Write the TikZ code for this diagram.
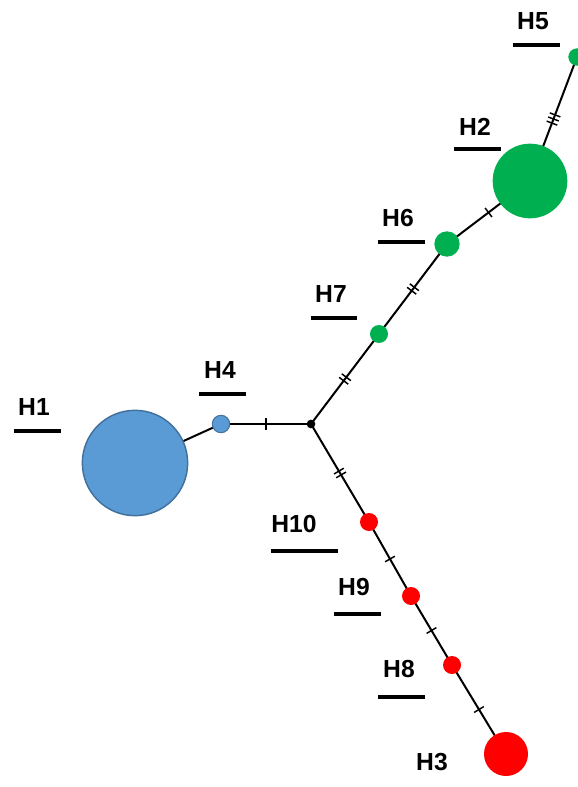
\documentclass[tikz,border=0pt]{standalone}
\usepackage{fontspec}
\setmainfont{Liberation Sans}
\usepackage{tikz}
\usetikzlibrary{positioning}
\usetikzlibrary{backgrounds}
\definecolor{hblue}{HTML}{5B9BD5}
\definecolor{hblueedge}{HTML}{41719C}
\definecolor{hgreen}{HTML}{00B050}
\definecolor{hred}{HTML}{FF0000}
\newcommand{\mk}{\rule{1.1pt}{8.5pt}}

\begin{document}
\begin{tikzpicture}[x=0.75pt,y=-0.75pt,main/.style = {circle, inner sep=0pt},
    lab/.style = {font=\fontsize{18.5}{20}\selectfont\bfseries},
    uline/.style = {line width=2.5pt},
    mut/.style = {sloped, inner sep=0pt}]
        \useasboundingbox (0,0) rectangle (577,787);
        % haplotypes
        \node[main,fill=hblue,draw=hblueedge,line width=1.1pt,minimum size=79pt] (1) at (135,463) {};
        \node[main,fill=hgreen,minimum size=56pt] (2) at (530,181) {};
        \node[main,fill=hred,minimum size=33pt] (3) at (506,754) {};
        \node[main,fill=hblue,draw=hblueedge,line width=0.8pt,minimum size=13pt] (4) at (221,424) {};
        \node[main,fill=hgreen,minimum size=13pt] (5) at (577,57) {};
        \node[main,fill=hgreen,minimum size=19pt] (6) at (447,244) {};
        \node[main,fill=hgreen,minimum size=13.5pt] (7) at (379,334) {};
        \node[main,fill=hred,minimum size=13.5pt] (8) at (452,665) {};
        \node[main,fill=hred,minimum size=13.5pt] (9) at (411,596) {};
        \node[main,fill=hred,minimum size=13.5pt] (10) at (369,522) {};
        \node[main,fill=black,minimum size=6.5pt] (0) at (311,424) {};
        % links and mutations
        \begin{scope}[on background layer]
        \path[line width=1.5pt]
        (1.center) edge (4.center)
        (4.center) edge node[mut] {\mk} (0.center)
        (0.center) edge node[mut] {\mk\hspace{2.2pt}\mk} (7.center)
        (7.center) edge node[mut] {\mk\hspace{2.2pt}\mk} (6.center)
        (6.center) edge node[mut] {\mk} (2.center)
        (2.center) edge node[mut] {\mk\hspace{2.2pt}\mk\hspace{2.2pt}\mk} (5.center)
        (0.center) edge node[mut] {\mk\hspace{2.2pt}\mk} (10.center)
        (10.center) edge node[mut] {\mk} (9.center)
        (9.center) edge node[mut] {\mk} (8.center)
        (8.center) edge node[mut] {\mk} (3.center);
        \end{scope}
        % labels
        \node[lab] (l1) at (34,407) {H1};
        \draw[uline] (l1.center) ++(-20,24) -- ++(47,0);
        \node[lab] (l2) at (475,127) {H2};
        \draw[uline] (l2.center) ++(-21,22) -- ++(47,0);
        \node[lab] (l3) at (432,762) {H3};
        \node[lab] (l4) at (220,370) {H4};
        \draw[uline] (l4.center) ++(-21,24) -- ++(47,0);
        \node[lab] (l5) at (533,21) {H5};
        \draw[uline] (l5.center) ++(-20,24) -- ++(47,0);
        \node[lab] (l6) at (398,218) {H6};
        \draw[uline] (l6.center) ++(-20,24) -- ++(47,0);
        \node[lab] (l7) at (331,294) {H7};
        \draw[uline] (l7.center) ++(-20,24) -- ++(46,0);
        \node[lab] (l8) at (399,669) {H8};
        \draw[uline] (l8.center) ++(-21,28) -- ++(47,0);
        \node[lab] (l9) at (354,587) {H9};
        \draw[uline] (l9.center) ++(-20,27) -- ++(47,0);
        \node[lab] (l10) at (294,524) {H10};
        \draw[uline] (l10.center) ++(-23,27) -- ++(67,0);
      \end{tikzpicture}
\end{document}
